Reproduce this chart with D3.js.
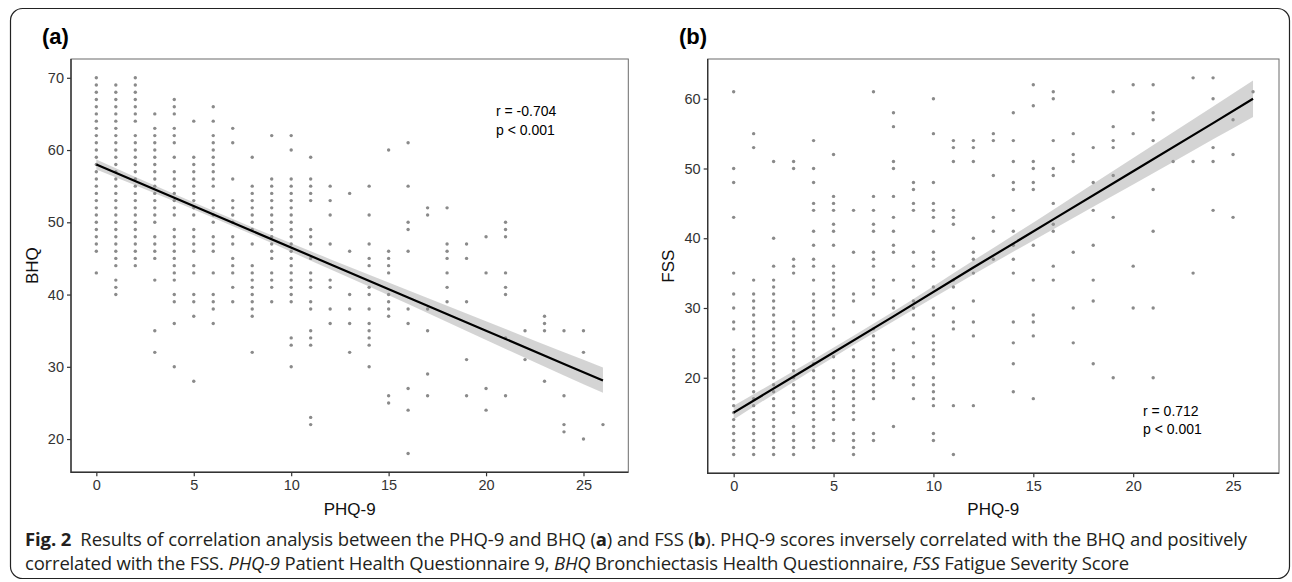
<!DOCTYPE html>
<html lang="en">
<head>
<meta charset="utf-8">
<title>PHQ-9 vs BHQ and FSS</title>
<script src="https://cdn.jsdelivr.net/npm/d3@7"></script>
<style>
  body { margin: 0; background: #fff; }
  svg text { font-family: Arial, "Liberation Sans", Helvetica, sans-serif; }
  .caption { font-family: "Open Sans", "Noto Sans", sans-serif; fill: #231f20; }
</style>
</head>
<body>
<svg id="fig" width="1292" height="582"></svg>
<script>
// PHQ-9 score (x) for every column of dots
var phqScores = [0,1,2,3,4,5,6,7,8,9,10,11,12,13,14,15,16,17,18,19,20,21,22,23,24,25,26];

// BHQ values seen at each PHQ-9 score (panel a)
var bhqByPhq = [
  [70,69,68,67,66,65,64,63,62,61,60,59,58,57,56,55,54,53,52,51,50,49,48,47,46,43],
  [69,68,67,66,65,64,63,62,61,60,59,58,57,56,55,54,53,52,51,50,49,48,47,46,45,44,42,41,40],
  [70,69,68,67,66,65,64,62,61,60,59,58,57,56,55,54,53,52,51,50,49,48,47,46,45,44],
  [65,63,62,61,60,59,58,57,56,55,54,53,52,51,50,48,47,46,45,42,35,32],
  [67,66,65,63,62,61,59,57,56,55,54,53,52,51,49,48,47,46,45,44,43,42,40,39,36,30],
  [64,59,58,57,56,55,54,53,52,51,49,48,47,46,44,43,40,39,37,28],
  [66,64,62,61,60,59,58,57,56,55,53,52,51,50,48,47,46,43,40,39,38,36],
  [63,61,56,53,52,51,50,48,47,45,44,43,41,39],
  [59,55,54,53,52,51,50,49,47,44,43,42,41,40,39,38,37,32],
  [62,56,55,54,53,52,51,50,49,48,47,46,45,43,42,41,39],
  [62,60,56,55,54,53,52,51,50,49,48,47,46,45,44,43,42,41,40,39,34,33,30],
  [59,56,55,54,53,49,48,47,45,43,42,41,39,38,35,34,33,23,22],
  [55,53,51,47,42,41,38,36],
  [54,46,40,38,36,32],
  [55,51,47,45,44,41,40,38,36,35,34,33,30],
  [60,46,45,44,43,40,39,38,37,26,25],
  [61,55,50,49,46,38,36,27,24,18],
  [52,51,38,35,29,26],
  [52,47,46,45,43,41,39],
  [47,45,39,31,26],
  [48,43,27,24],
  [50,49,48,43,41,40,34,26],
  [35,31],
  [37,36,35,28],
  [35,26,22,21],
  [35,32,20],
  [22]
];

// FSS values seen at each PHQ-9 score (panel b)
var fssByPhq = [
  [61,50,48,43,35,32,30,28,27,24,23,22,21,20,19,18,17,16,15,14,13,12,11,10,9],
  [55,53,34,32,31,30,29,28,27,26,25,24,23,22,21,20,19,18,17,16,15,14,13,12,11,10,9],
  [51,40,36,34,33,32,31,30,29,28,27,26,25,24,23,22,21,20,19,18,17,16,15,14,13,12,11,10,9],
  [51,50,37,36,35,28,27,26,25,24,23,22,21,20,19,18,17,16,15,13,12,11,10,9],
  [54,50,48,45,44,41,39,37,36,34,32,31,30,29,28,27,26,25,24,23,22,21,20,19,18,17,16,15,14,13,12,11,10],
  [52,46,45,44,42,41,39,36,35,34,33,32,31,30,29,27,26,23,21,20,18,17,16,15,14,12,11],
  [44,38,32,31,28,24,23,21,20,19,18,17,16,15,14,12,11,10,9],
  [61,46,44,42,41,38,37,36,34,33,32,29,27,26,25,24,23,22,21,20,19,18,17,12,11],
  [58,56,51,50,46,43,41,39,38,34,31,30,24,22,21,20,13],
  [48,47,45,44,38,36,34,33,31,30,29,27,25,23,20,19,17],
  [60,55,48,45,44,43,41,38,37,36,33,30,29,26,25,24,23,22,20,19,18,17,16,12,11],
  [54,53,51,44,43,42,36,34,33,30,28,27,16,9],
  [54,53,51,40,38,37,35,31,28,26,16],
  [55,54,49,43,41,37],
  [58,54,51,48,47,44,41,39,37,35,28,25,22,18],
  [62,59,51,50,48,47,39,34,29,28,26,17],
  [61,60,54,50,49,45,42,41,36,34],
  [55,52,51,38,30,25],
  [53,48,44,39,34,31,22],
  [61,56,54,53,49,43,20],
  [62,55,36,30],
  [62,58,57,54,47,41,30,20],
  [51],
  [63,51,35],
  [63,60,53,51,44],
  [57,52,43],
  [61]
];

// fitted line and 95% band
var fitX    = [0, 4, 8, 12, 16, 20, 24, 26];
var bhqFit  = [58.0, 53.4, 48.8, 44.2, 39.6, 35.0, 30.4, 28.1];
var bhqLow  = [57.3, 52.9, 48.3, 43.5, 38.7, 33.7, 28.8, 26.4];
var bhqHigh = [58.7, 53.9, 49.3, 44.9, 40.6, 36.3, 32.0, 29.9];
var fssFit  = [15.0, 21.9, 28.8, 35.8, 42.7, 49.6, 56.5, 60.0];
var fssLow  = [14.0, 21.2, 28.1, 34.8, 41.3, 47.7, 54.2, 57.4];
var fssHigh = [16.0, 22.6, 29.5, 36.8, 44.1, 51.5, 58.9, 62.6];

// tick labels
var xTicks   = [0, 5, 10, 15, 20, 25];
var bhqTicks = [20, 30, 40, 50, 60, 70];
var fssTicks = [20, 30, 40, 50, 60];

var svg = d3.select("#fig");

// outer figure box
svg.append("rect")
   .attr("x", 10.5).attr("y", 8.5)
   .attr("width", 1279).attr("height", 570)
   .attr("rx", 12).attr("ry", 12)
   .attr("fill", "none").attr("stroke", "#222").attr("stroke-width", 1.2);

function drawPanel(p) {
  var x = d3.scaleLinear().domain([-1.3, 27.3]).range([p.left, p.right]);
  var y = d3.scaleLinear().domain(p.yDomain).range([p.bottom, p.top]);
  var g = svg.append("g");

  g.append("rect")
   .attr("x", p.left).attr("y", p.top)
   .attr("width", p.right - p.left).attr("height", p.bottom - p.top)
   .attr("fill", "#fff");

  // points
  var pts = [];
  phqScores.forEach(function(s, i) {
    p.values[i].forEach(function(v) { pts.push([s, v]); });
  });
  g.selectAll("circle")
   .data(pts)
   .enter()
   .append("circle")
   .attr("cx", function(d) { return x(d[0]); })
   .attr("cy", function(d) { return y(d[1]); })
   .attr("r", 1.7)
   .attr("fill", "#8a8a8a");

  // confidence band
  var area = d3.area()
    .x(function(d, i) { return x(fitX[i]); })
    .y0(function(d, i) { return y(p.low[i]); })
    .y1(function(d, i) { return y(p.high[i]); })
    .curve(d3.curveMonotoneX);
  g.append("path")
   .datum(fitX)
   .attr("d", area)
   .attr("fill", "#999")
   .attr("fill-opacity", 0.42);

  // fitted line
  var line = d3.line()
    .x(function(d, i) { return x(fitX[i]); })
    .y(function(d) { return y(d); });
  g.append("path")
   .datum(p.fit)
   .attr("d", line)
   .attr("fill", "none")
   .attr("stroke", "#000")
   .attr("stroke-width", 2.2);

  // frame
  g.append("rect")
   .attr("x", p.left).attr("y", p.top)
   .attr("width", p.right - p.left).attr("height", p.bottom - p.top)
   .attr("fill", "none").attr("stroke", "#6b6b6b").attr("stroke-width", 1);
  g.append("path")
   .attr("d", "M" + p.left + "," + p.top + "V" + p.bottom + "H" + p.right)
   .attr("fill", "none").attr("stroke", "#333").attr("stroke-width", 1.4);

  // axes
  var xAxis = d3.axisBottom(x).tickValues(xTicks).tickSize(4).tickPadding(3);
  var gx = g.append("g")
    .attr("transform", "translate(0," + p.bottom + ")")
    .call(xAxis);
  var yAxis = d3.axisLeft(y).tickValues(p.ticks).tickSize(4).tickPadding(3);
  var gy = g.append("g")
    .attr("transform", "translate(" + p.left + ",0)")
    .call(yAxis);
  [gx, gy].forEach(function(a) {
    a.select(".domain").remove();
    a.selectAll(".tick line").attr("stroke", "#333").attr("stroke-width", 1.2);
    a.selectAll(".tick text")
     .attr("fill", "#333")
     .attr("font-size", "14.5px")
     .attr("font-family", null);
  });

  // axis titles
  g.append("text")
   .attr("x", (p.left + p.right) / 2)
   .attr("y", 515)
   .attr("text-anchor", "middle")
   .attr("font-size", "17px")
   .attr("fill", "#111")
   .text("PHQ-9");
  g.append("text")
   .attr("transform", "translate(" + p.yTitleX + "," + ((p.top + p.bottom) / 2) + ") rotate(-90)")
   .attr("text-anchor", "middle")
   .attr("font-size", "17px")
   .attr("fill", "#111")
   .text(p.yTitle);

  // panel letter
  g.append("text")
   .attr("x", p.tagX).attr("y", 44)
   .attr("font-size", "22px")
   .attr("font-weight", "bold")
   .attr("fill", "#000")
   .text(p.tag);

  // r / p annotation
  p.note.forEach(function(t, i) {
    g.append("text")
     .attr("x", p.noteX)
     .attr("y", p.noteY + i * 18.5)
     .attr("font-size", "14px")
     .attr("fill", "#000")
     .text(t);
  });
}

drawPanel({
  left: 71, right: 628.3, top: 59, bottom: 472.3,
  yDomain: [15.4, 72.6], values: bhqByPhq, ticks: bhqTicks,
  fit: bhqFit, low: bhqLow, high: bhqHigh,
  yTitle: "BHQ", yTitleX: 38, tag: "(a)", tagX: 42,
  note: ["r = -0.704", "p < 0.001"], noteX: 496, noteY: 116
});

drawPanel({
  left: 707.7, right: 1279, top: 59, bottom: 473.3,
  yDomain: [6.3, 65.7], values: fssByPhq, ticks: fssTicks,
  fit: fssFit, low: fssLow, high: fssHigh,
  yTitle: "FSS", yTitleX: 674, tag: "(b)", tagX: 679,
  note: ["r = 0.712", "p < 0.001"], noteX: 1143, noteY: 415.5
});

// caption: squeeze each line with letter-spacing so it ends where the original does
function fitWidth(t, target) {
  var node = t.node();
  var natural = node.getComputedTextLength();
  var n = node.textContent.length;
  t.attr("letter-spacing", ((target - natural) / n).toFixed(3) + "px");
}

var cap1 = svg.append("text")
  .attr("class", "caption")
  .attr("x", 25).attr("y", 546)
  .attr("font-size", "18.5px");
cap1.append("tspan").attr("font-weight", "bold").text("Fig. 2");
cap1.append("tspan").text("\u2002Results of correlation analysis between the PHQ-9 and BHQ (");
cap1.append("tspan").attr("font-weight", "bold").text("a");
cap1.append("tspan").text(") and FSS (");
cap1.append("tspan").attr("font-weight", "bold").text("b");
cap1.append("tspan").text("). PHQ-9 scores inversely correlated with the BHQ and positively");
fitWidth(cap1, 1222);

var cap2 = svg.append("text")
  .attr("class", "caption")
  .attr("x", 25).attr("y", 570)
  .attr("font-size", "18.5px");
cap2.append("tspan").text("correlated with the FSS. ");
cap2.append("tspan").attr("font-style", "italic").text("PHQ-9");
cap2.append("tspan").text(" Patient Health Questionnaire 9, ");
cap2.append("tspan").attr("font-style", "italic").text("BHQ");
cap2.append("tspan").text(" Bronchiectasis Health Questionnaire, ");
cap2.append("tspan").attr("font-style", "italic").text("FSS");
cap2.append("tspan").text(" Fatigue Severity Score");
fitWidth(cap2, 1104);
</script>
</body>
</html>
